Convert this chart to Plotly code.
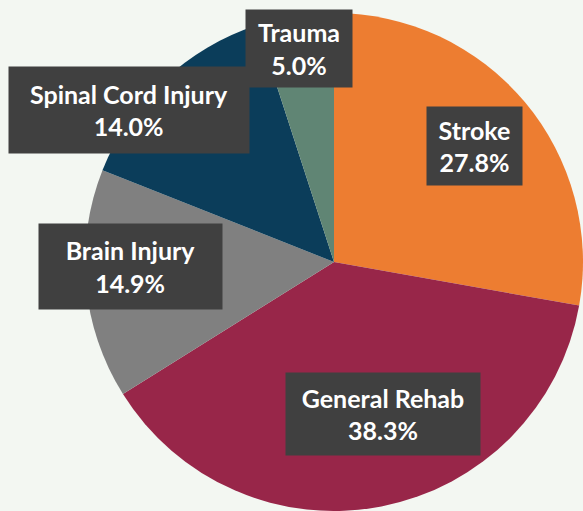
import plotly.graph_objects as go

# Share of rehabilitation cases by category (percent)
categories = ["Stroke", "General Rehab", "Brain Injury", "Spinal Cord Injury", "Trauma"]
shares = [27.8, 38.3, 14.9, 14.0, 5.0]
slice_colors = ["#ED7D31", "#982649", "#808080", "#0B3D5A", "#608574"]

W, H = 583, 511
BG = "#F3F7F2"

# Label box placement in pixels: (center x, center y, width, height)
label_boxes = {
    "Stroke": (474, 146, 95, 78),
    "General Rehab": (383, 414, 194, 82),
    "Brain Injury": (130, 266, 183, 85),
    "Spinal Cord Injury": (129, 110, 240, 86),
    "Trauma": (299, 48, 106, 77),
}

fig = go.Figure(
    go.Pie(
        labels=categories,
        values=shares,
        sort=False,
        direction="clockwise",
        rotation=0,
        marker=dict(colors=slice_colors, line=dict(width=0)),
        textinfo="none",
        hoverinfo="label+percent",
        showlegend=False,
        domain=dict(x=[85 / W, 1.0], y=[0.0, (H - 13) / H]),
    )
)

for name, val in zip(categories, shares):
    cx, cy, bw, bh = label_boxes[name]
    fig.add_annotation(
        x=cx / W,
        y=1 - cy / H,
        xref="paper",
        yref="paper",
        xanchor="center",
        yanchor="middle",
        text=f"<b>{name}<br>{val:.1f}%</b>",
        showarrow=False,
        font=dict(family="Lato", size=25, color="white"),
        bgcolor="#404040",
        borderpad=0,
        width=bw,
        height=bh,
        align="center",
        valign="middle",
    )

fig.update_layout(
    width=W,
    height=H,
    margin=dict(l=0, r=0, t=0, b=0),
    paper_bgcolor=BG,
    plot_bgcolor=BG,
)

fig.write_html("out.html")
